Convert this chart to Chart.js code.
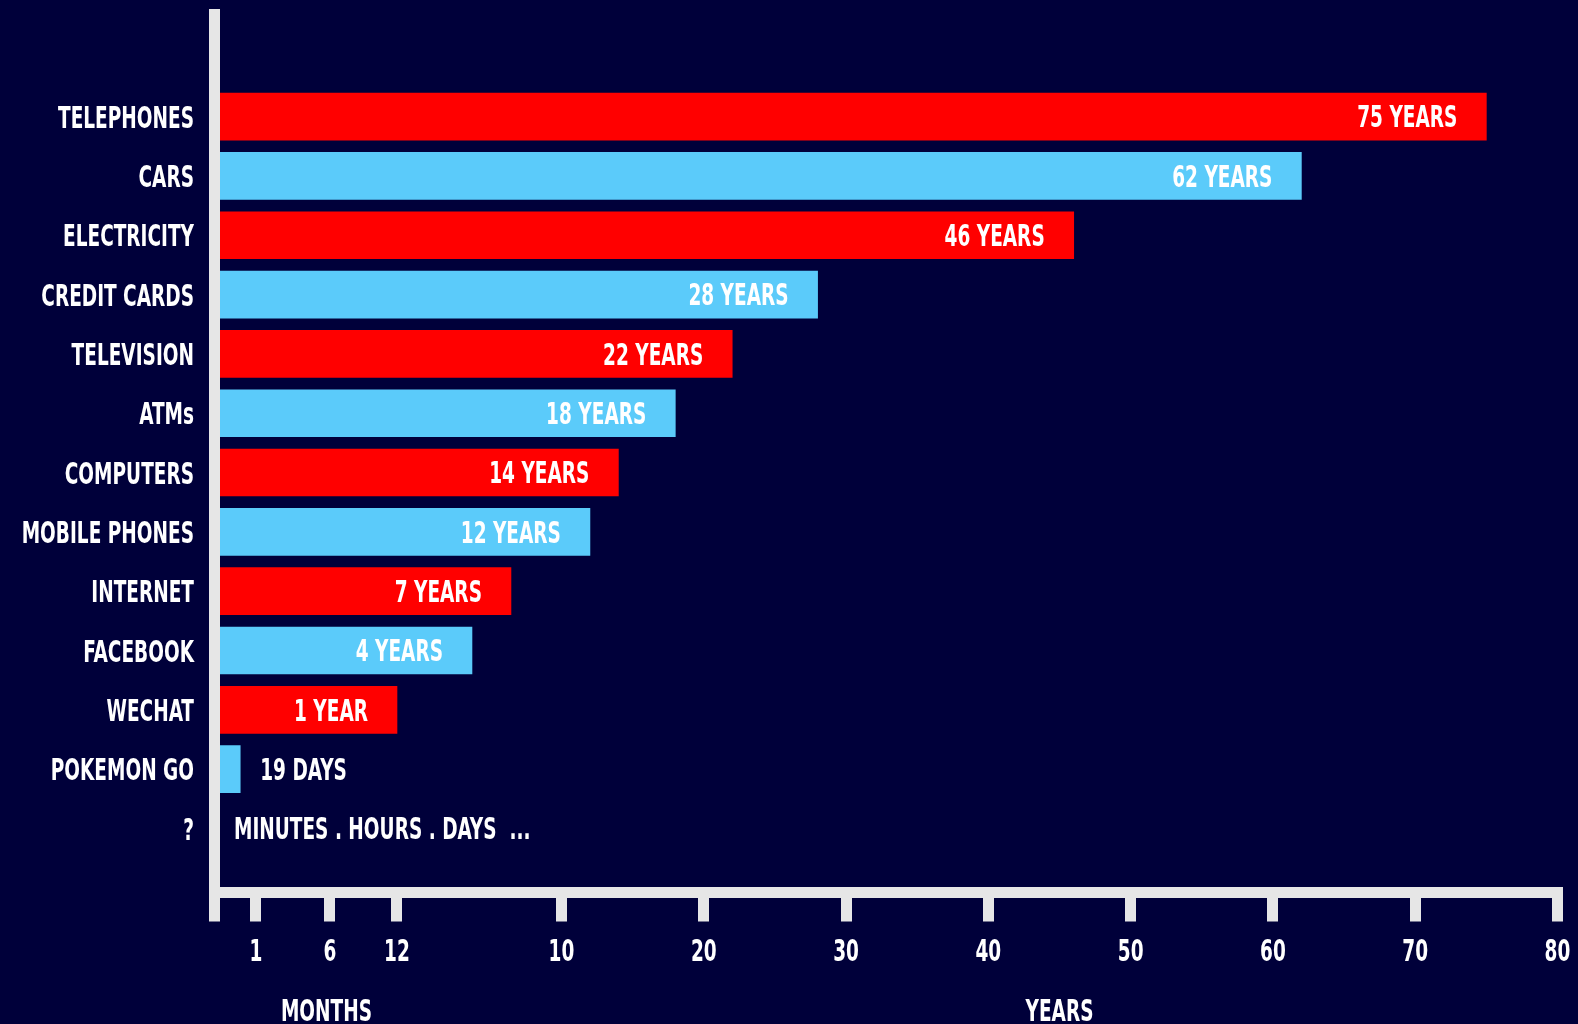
<!DOCTYPE html>
<html>
<head>
<meta charset="utf-8">
<script src="https://cdn.jsdelivr.net/npm/chart.js@4.4.1/dist/chart.umd.min.js"></script>
<style>
  html, body { margin: 0; padding: 0; background: #00003a; overflow: hidden; }
  #wrap { position: relative; width: 1578px; height: 1024px; }
</style>
</head>
<body>
<div id="wrap"><canvas id="c"></canvas></div>
<script>
// ---------------- data ----------------
const categories = ['TELEPHONES', 'CARS', 'ELECTRICITY', 'CREDIT CARDS', 'TELEVISION', 'ATMs',
  'COMPUTERS', 'MOBILE PHONES', 'INTERNET', 'FACEBOOK', 'WECHAT', 'POKEMON GO', '?'];
// years needed to reach 50 million users (19 days for Pokemon Go, unknown for "?")
const yearsToReach = [75, 62, 46, 28, 22, 18, 14, 12, 7, 4, 1, 19 / 365, null];
const valueLabels = ['75 YEARS', '62 YEARS', '46 YEARS', '28 YEARS', '22 YEARS', '18 YEARS',
  '14 YEARS', '12 YEARS', '7 YEARS', '4 YEARS', '1 YEAR', '19 DAYS', 'MINUTES . HOURS . DAYS  ...'];
const xTickValues = [0, 1 / 12, 6 / 12, 1, 10, 20, 30, 40, 50, 60, 70, 80];
const xTickLabels = ['', '1', '6', '12', '10', '20', '30', '40', '50', '60', '70', '80'];
const unitLabels = ['MONTHS', 'YEARS'];
const unitRanges = [[1 / 12, 1], [10, 80]];

// ---------------- styling ----------------
const RED = '#ff0000', BLUE = '#5bcbfa', AXIS = '#e6e6e6', TEXT = '#ffffff';

function pickFont(cands) {
  const c = document.createElement('canvas').getContext('2d');
  const s = 'MOBILE PHONES 1234567890';
  c.font = 'bold 40px monospace';
  const w0 = c.measureText(s).width;
  for (const f of cands) {
    c.font = `bold 40px "${f}", monospace`;
    if (Math.abs(c.measureText(s).width - w0) > 0.5) return `"${f}"`;
  }
  return 'sans-serif';
}
const FAMILY = pickFont(['Liberation Sans Narrow', 'DejaVu Sans Condensed', 'Roboto Condensed', 'Liberation Sans', 'Roboto']);
const mctx = document.createElement('canvas').getContext('2d');
mctx.font = `bold 100px ${FAMILY}`;
const capRatio = mctx.measureText('H').actualBoundingBoxAscent / 100;
const FONT_SIZE = Math.round(21.6 / capRatio * 10) / 10;
mctx.font = `bold ${FONT_SIZE}px ${FAMILY}`;
const SQUEEZE = Math.min(1, 136 / mctx.measureText('TELEPHONES').width);
const CAP = 21.6;

// draw a scale's own label items, horizontally condensed around each anchor
function drawCondensedLabels(scale, chartArea, dy) {
  const ctx = scale.ctx;
  const items = scale.getLabelItems(chartArea);
  for (const item of items) {
    const [tx, ty] = item.options.translation;
    ctx.save();
    ctx.translate(tx, ty + dy);
    ctx.scale(SQUEEZE, 1);
    ctx.font = item.font.string;
    ctx.fillStyle = item.options.color;
    ctx.textAlign = item.options.textAlign;
    ctx.textBaseline = item.options.textBaseline;
    const lines = Array.isArray(item.label) ? item.label : [item.label];
    lines.forEach((l, j) => ctx.fillText(l, 0, item.textOffset + j * item.font.lineHeight));
    ctx.restore();
  }
}

// piecewise scale: months region, years 1-10 region, then linear decades
const KNOTS = [[0, 0], [1 / 12, 0.295], [0.5, 0.815], [1, 1.286], [4, 1.813], [7, 2.087], [10, 2.442], [80, 9.442]];
class PiecewiseScale extends Chart.LinearScale {
  static id = 'piecewise';
  static defaults = {};
  getPixelForValue(value) {
    const k = KNOTS, total = k[k.length - 1][1];
    let pos = k[0][1];
    if (value >= k[k.length - 1][0]) {
      const a = k[k.length - 2], b = k[k.length - 1];
      pos = b[1] + (value - b[0]) * (b[1] - a[1]) / (b[0] - a[0]);
    } else if (value > k[0][0]) {
      for (let i = 1; i < k.length; i++) {
        if (value <= k[i][0]) {
          const a = k[i - 1], b = k[i];
          pos = a[1] + (value - a[0]) / (b[0] - a[0]) * (b[1] - a[1]);
          break;
        }
      }
    }
    return this.getPixelForDecimal(pos / total);
  }
  getValueForPixel(pixel) {
    const k = KNOTS, total = k[k.length - 1][1];
    const pos = this.getDecimalForPixel(pixel) * total;
    for (let i = 1; i < k.length; i++) {
      if (pos <= k[i][1]) {
        const a = k[i - 1], b = k[i];
        return a[0] + (pos - a[1]) / (b[1] - a[1]) * (b[0] - a[0]);
      }
    }
    return k[k.length - 1][0];
  }
  drawLabels(chartArea) { drawCondensedLabels(this, chartArea, 0); }
}
// linear index axis whose labels are drawn horizontally condensed
class CondensedLinearScale extends Chart.LinearScale {
  static id = 'condensedLinear';
  static defaults = {};
  drawLabels(chartArea) { drawCondensedLabels(this, chartArea, 3.5); }
}
Chart.register(PiecewiseScale, CondensedLinearScale);

function squeezedText(ctx, txt, x, y, align) {
  ctx.save();
  ctx.translate(x, y);
  ctx.scale(SQUEEZE, 1);
  ctx.textAlign = align;
  ctx.fillText(txt, 0, 0);
  ctx.restore();
}

const labelPlugin = {
  id: 'barTexts',
  afterDatasetsDraw(chart) {
    const ctx = chart.ctx, xs = chart.scales.x, ys = chart.scales.y;
    ctx.save();
    ctx.font = `bold ${FONT_SIZE}px ${FAMILY}`;
    ctx.fillStyle = TEXT;
    ctx.textBaseline = 'alphabetic';
    const base = xs.getPixelForValue(0);
    valueLabels.forEach((txt, i) => {
      const v = yearsToReach[i];
      const end = v == null ? base : xs.getPixelForValue(v);
      const y = ys.getPixelForValue(i) + CAP / 2;
      const w = ctx.measureText(txt).width * SQUEEZE;
      if (end - base > w + 50) squeezedText(ctx, txt, end - 29, y, 'right');
      else squeezedText(ctx, txt, end + 20, y, 'left');
    });
    ctx.restore();
  },
  afterDraw(chart) {
    const ctx = chart.ctx, xs = chart.scales.x;
    ctx.save();
    ctx.font = `bold ${FONT_SIZE}px ${FAMILY}`;
    ctx.fillStyle = TEXT;
    ctx.textBaseline = 'alphabetic';
    unitLabels.forEach((txt, i) => {
      const cx = (xs.getPixelForValue(unitRanges[i][0]) + xs.getPixelForValue(unitRanges[i][1])) / 2;
      squeezedText(ctx, txt, cx, 1020.5, 'center');
    });
    ctx.restore();
  }
};

const font = { family: FAMILY, size: FONT_SIZE, weight: 'bold' };
const noPad = (s) => { s.paddingLeft = 0; s.paddingRight = 0; s.paddingTop = 0; s.paddingBottom = 0; };

new Chart(document.getElementById('c'), {
  type: 'bar',
  data: {
    datasets: [{
      data: yearsToReach.map((v, i) => ({ x: v, y: i })),
      backgroundColor: yearsToReach.map((_, i) => (i % 2 === 0 ? RED : BLUE)),
      borderWidth: 0,
      barThickness: 47
    }]
  },
  options: {
    indexAxis: 'y',
    responsive: true,
    maintainAspectRatio: false,
    animation: false,
    layout: { padding: { top: 14, right: 20.5, left: 0, bottom: 0 } },
    plugins: { legend: { display: false }, tooltip: { enabled: false }, title: { display: false } },
    scales: {
      x: {
        type: 'piecewise',
        position: 'bottom',
        bounds: 'data',
        offset: false,
        min: 0, max: 80,
        afterBuildTicks: (s) => { s.ticks = xTickValues.map(v => ({ value: v })); s.min = 0; s.max = 80; },
        afterFit: (s) => { s.height = 131.5; noPad(s); },
        ticks: {
          autoSkip: false, maxRotation: 0, minRotation: 0,
          color: TEXT, font, padding: 14,
          callback: (v, i) => xTickLabels[i]
        },
        grid: { drawOnChartArea: false, drawTicks: true, tickLength: 29, lineWidth: 11, color: AXIS, offset: false },
        border: { display: true, color: AXIS, width: 11 }
      },
      y: {
        type: 'condensedLinear',
        position: 'left',
        reverse: true,
        bounds: 'data',
        offset: false,
        min: -1.73, max: 13.08,
        afterBuildTicks: (s) => { s.ticks = categories.map((_, i) => ({ value: i })); s.min = -1.73; s.max = 13.08; },
        afterFit: (s) => { s.width = 214; noPad(s); },
        ticks: {
          autoSkip: false, color: TEXT, font, padding: 20,
          callback: (v) => categories[v] ?? ''
        },
        grid: { display: false, drawTicks: false, offset: false },
        border: { display: true, color: AXIS, width: 11, z: 1 }
      }
    }
  },
  plugins: [labelPlugin]
});
</script>
</body>
</html>
